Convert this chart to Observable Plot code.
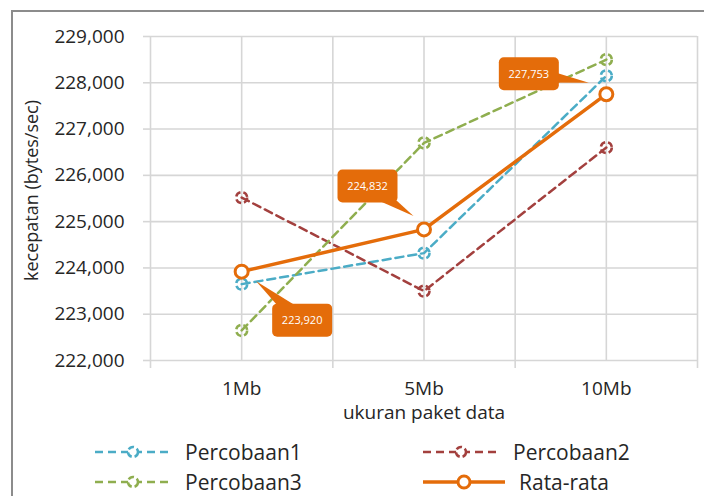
<!DOCTYPE html>
<html><head><meta charset="utf-8">
<script src="https://cdn.jsdelivr.net/npm/d3@7"></script>
<script src="https://cdn.jsdelivr.net/npm/@observablehq/plot@0.6"></script>
<style>
body{margin:0;background:#fff;font-family:"Open Sans",sans-serif;}
#wrap{position:relative;width:704px;height:496px;overflow:hidden;background:#fff}
#frame{position:absolute;left:11px;top:10px;width:720px;height:520px;border-top:2.5px solid #8c8c8c;border-left:2.5px solid #8c8c8c;box-sizing:border-box}
#chart{position:absolute;left:0;top:0}
.leg{position:absolute;display:flex;align-items:center;font-size:21px;color:#262626;height:26px}
.leg svg{margin-right:14px}
</style></head><body>
<div id="wrap"><div id="frame"></div><div id="chart"></div><div id="legend"></div></div>
<script>
// ---- data ----
const categories = ["1Mb", "5Mb", "10Mb"];
const percobaan1 = [223650, 224320, 228150];
const percobaan2 = [225520, 223500, 226600];
const percobaan3 = [222650, 226700, 228500];
const rataRata   = [223920, 224832, 227753];
const seriesNames = ["Percobaan1", "Percobaan2", "Percobaan3", "Rata-rata"];
const yTicks = [222000, 223000, 224000, 225000, 226000, 227000, 228000, 229000];
const xLabel = "ukuran paket data";
const yLabel = "kecepatan (bytes/sec)";

// ---- styles ----
const colors = ["#4bacc6", "#a3403e", "#8fae4f", "#e46c0a"];
const calloutOffsets = [ // box centre and tail tip relative to point (px)
  {bx: 61, by: 49, tx: 15, ty: 10},
  {bx: -56, by: -43, tx: -10, ty: -13},
  {bx: -77, by: -20, tx: -17, ty: -11}
];

const seriesValues = [percobaan1, percobaan2, percobaan3, rataRata];
const series = seriesNames.map((name, s) => ({
  name, color: colors[s],
  rows: categories.map((c, i) => ({i, cat: c, v: seriesValues[s][i], name}))
}));
const fmt = d3.format(",");
const gridXs = d3.range(-0.5, categories.length, 0.5);
const boundaries = d3.range(-0.5, categories.length, 1);
const gridColor = "#d6d6d6";

const marks = [
  Plot.gridY(yTicks, {stroke: gridColor, strokeOpacity: 1, strokeWidth: 1.6}),
  Plot.gridX(gridXs, {stroke: gridColor, strokeOpacity: 1, strokeWidth: 1.6}),
  Plot.axisY(yTicks, {text: null, tickSize: 7, stroke: gridColor, strokeWidth: 1.6, label: null}),
  Plot.axisY(yTicks, {tickSize: 0, tickPadding: 26, tickFormat: fmt, fontSize: 19, fill: "#262626", label: null}),
  Plot.axisX(boundaries, {text: null, tickSize: 8, stroke: gridColor, strokeWidth: 1.6, label: null}),
  Plot.axisX(d3.range(categories.length), {tickSize: 0, tickPadding: 21, tickFormat: i => categories[i], fontSize: 19, fill: "#262626", label: null}),
  Plot.text([xLabel], {frameAnchor: "bottom", lineAnchor: "middle", textAnchor: "middle", dy: 52, fontSize: 19, fill: "#262626"}),
  Plot.text([yLabel], {frameAnchor: "left", textAnchor: "middle", lineAnchor: "middle", rotate: -90, dx: -118, dy: -8, fontSize: 18, fill: "#262626"})
];

series.forEach((s, k) => {
  const avg = k === 3;
  marks.push(Plot.line(s.rows, {x: "i", y: "v", stroke: s.color,
    strokeWidth: avg ? 3.5 : 2.5, strokeDasharray: avg ? null : "8,5"}));
  marks.push(Plot.dot(s.rows, {x: "i", y: "v", r: avg ? 6.5 : 5.5, stroke: s.color,
    strokeWidth: avg ? 3 : 2.5, fill: avg ? "white" : "none", strokeDasharray: avg ? null : "6,3"}));
});

// callout labels for the average series
marks.push((index, scales) => {
  const g = d3.create("svg:g");
  series[3].rows.forEach((d, j) => {
    const px = scales.x(d.i), py = scales.y(d.v);
    const o = calloutOffsets[j];
    const cx = px + o.bx, cy = py + o.by, tx = px + o.tx, ty = py + o.ty;
    const dxv = tx - cx, dyv = ty - cy, len = Math.hypot(dxv, dyv);
    const nx = -dyv / len * 9, ny = dxv / len * 9;
    g.append("path")
      .attr("d", `M${tx},${ty}L${cx + nx},${cy + ny}L${cx - nx},${cy - ny}Z`)
      .attr("fill", colors[3]);
    g.append("rect")
      .attr("x", cx - 30).attr("y", cy - 16.5).attr("width", 60).attr("height", 33)
      .attr("rx", 5).attr("fill", colors[3]);
    g.append("text")
      .attr("x", cx).attr("y", cy).attr("dy", "0.35em")
      .attr("text-anchor", "middle").attr("fill", "white")
      .attr("font-size", 11).attr("font-family", "Open Sans, sans-serif")
      .text(fmt(d.v));
  });
  return g.node();
});

const chart = Plot.plot({
  width: 704, height: 420,
  marginLeft: 150, marginRight: 7, marginTop: 36, marginBottom: 60,
  style: {fontFamily: "Open Sans, sans-serif", background: "transparent", overflow: "visible"},
  x: {type: "linear", domain: [-0.5, categories.length - 0.5], axis: null},
  y: {domain: [yTicks[0], yTicks[yTicks.length - 1]], axis: null},
  marks
});
document.getElementById("chart").appendChild(chart);

// legend
const legendPos = [[95, 439], [423, 439], [95, 469], [423, 469]];
const legend = document.getElementById("legend");
series.forEach((s, k) => {
  const avg = k === 3;
  const div = document.createElement("div");
  div.className = "leg";
  div.style.left = legendPos[k][0] + "px";
  div.style.top = legendPos[k][1] + "px";
  const w = avg ? 82 : 76;
  const svg = d3.create("svg").attr("width", w).attr("height", 20);
  svg.append("line").attr("x1", 0).attr("x2", w).attr("y1", 10).attr("y2", 10)
    .attr("stroke", s.color).attr("stroke-width", avg ? 3.5 : 2.5)
    .attr("stroke-dasharray", avg ? null : "8,5");
  svg.append("circle").attr("cx", w / 2).attr("cy", 10).attr("r", avg ? 6 : 5)
    .attr("fill", "white").attr("stroke", s.color)
    .attr("stroke-width", avg ? 3 : 2.5).attr("stroke-dasharray", avg ? null : "6,3");
  div.appendChild(svg.node());
  const span = document.createElement("span");
  span.textContent = s.name;
  div.appendChild(span);
  legend.appendChild(div);
});
</script>
</body></html>
